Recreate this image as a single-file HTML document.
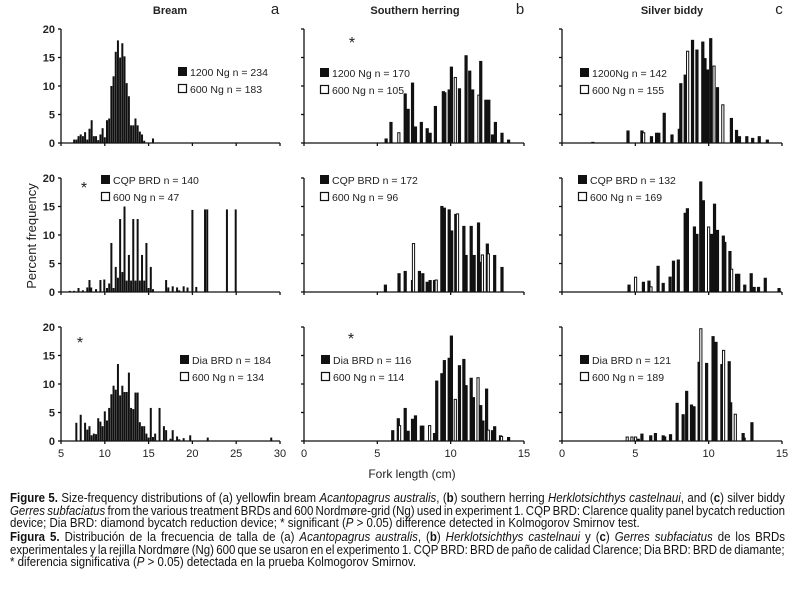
<!DOCTYPE html>
<html><head><meta charset="utf-8">
<style>
body{margin:0;background:#fff;width:799px;height:595px;overflow:hidden;position:relative;font-family:"Liberation Sans",sans-serif;}
svg{position:absolute;left:0;top:0}
.cap{position:absolute;left:10px;white-space:nowrap;font-family:"Liberation Sans Narrow","Liberation Sans",sans-serif;font-size:12.5px;transform-origin:0 0;color:#111}
</style></head><body>
<svg id="chart" width="799" height="490"></svg>
<div class="cap" data-j="1" style="top:491px"><b>Figure 5.</b> Size-frequency distributions of (a) yellowfin bream <i>Acantopagrus australis</i>, (<b>b</b>) southern herring <i>Herklotsichthys castelnaui</i>, and (<b>c</b>) silver biddy</div>
<div class="cap" data-j="1" style="top:504px"><i>Gerres subfaciatus</i> from the various treatment BRDs and 600 Nordmøre-grid (Ng) used in experiment 1. CQP BRD: Clarence quality panel bycatch reduction</div>
<div class="cap" style="top:516px">device; Dia BRD: diamond bycatch reduction device; * significant (<i>P</i> &gt; 0.05) difference detected in Kolmogorov Smirnov test.</div>
<div class="cap" data-j="1" style="top:530px"><b>Figura 5.</b> Distribución de la frecuencia de talla de (a) <i>Acantopagrus australis</i>, (<b>b</b>) <i>Herklotsichthys castelnaui</i> y (<b>c</b>) <i>Gerres subfaciatus</i> de los BRDs</div>
<div class="cap" data-j="1" style="top:543px">experimentales y la rejilla Nordmøre (Ng) 600 que se usaron en el experimento 1. CQP BRD: BRD de paño de calidad Clarence; Dia BRD: BRD de diamante;</div>
<div class="cap" style="top:555px">* diferencia significativa (<i>P</i> &gt; 0.05) detectada en la prueba Kolmogorov Smirnov.</div>
<script>
// ---- data (cm, percent, type f=filled o=open) ----
const a1x=[6.5,6.75,7,7.25,7.5,7.75,8,8.25,8.5,8.75,9,9.25,9.5,9.75,10,10.25,10.5,10.75,11,11.25,11.5,11.75,12,12.25,12.5,12.75,13,13.25,13.5,13.75,14,14.25,14.5,15.5];
const a1v=[0.6,0.6,1.2,1.5,1.2,1.9,0.6,2.5,4,1.2,1.2,0.5,1.5,2.6,1,4,4.3,10,11.7,16,18,15,17.5,15.2,10.5,8.2,3.1,3.1,4.3,3.1,2,1.5,0.4,0.8];
const a1t="ffffffffffffffffffffffffffffffffff";
const a2x=[6,6.5,7,7.5,8,8.25,8.5,9,9.5,10,10.25,10.5,10.75,11,11.25,11.5,11.75,12,12.25,12.5,12.75,13,13.25,13.5,13.75,14,14.25,14.5,14.75,15,15.25,15.5,17,17.25,17.75,18.25,18.5,19,19.5,20,20.5,21.5,21.75,24,25];
const a2v=[0.2,0.2,0.7,0.3,0.8,2.1,0.7,0.5,2.1,2.1,0.7,1.5,8.6,0.7,4.4,2.5,12.8,3.5,15,2,6.5,2,12.8,2,12.8,2,6.5,2,8.6,0.7,4.4,0.5,2.1,0.8,1,0.8,0.3,1,0.7,14.4,0.8,14.4,14.4,14.4,14.4];
const a2t="ffffffoffoffffffffffffffffffffffffffffofoooo".padEnd(45,"o");
const a3x=[6.75,7.25,7.75,8,8.25,8.5,8.75,9,9.25,9.5,9.75,10,10.25,10.5,10.75,11,11.25,11.5,11.75,12,12.25,12.5,12.75,13,13.25,13.5,13.75,14,14.25,14.5,14.75,15,15.25,15.5,15.75,16.25,16.75,17,17.5,17.75,18.25,18.5,19,19.75,21.75,29];
const a3v=[3.2,4.6,3.2,2,2.6,1,1.3,1.2,4,3.4,2.6,5.2,3.6,5.8,8.2,9.7,9,13.5,8,9.7,8.6,8.6,12,5.8,5.6,8.5,8.5,3.3,2.6,2.6,1.3,0.6,5.8,0.7,1.3,5.8,2.6,1.9,0.4,1.9,0.8,0.3,0.5,1,0.6,0.6];
const a3t="f".repeat(46);
const b1x=[5.6,5.93,6.5,6.9,7.1,7.4,7.6,8.0,8.4,8.6,8.96,9.5,9.6,9.9,10.05,10.35,10.6,11.05,11.3,11.5,11.96,12.05,12.4,12.6,12.85,13.05,13.5,13.95];
const b1v=[0.8,3.7,1.8,8.7,6,10.6,2.9,3.7,2.6,1.8,6.5,9.1,8.9,9.4,13.4,11.5,9.6,15.4,12.7,9.4,8.4,14.4,7.6,7.6,1.5,3.7,1.8,0.6];
const b1t="ffoffffffffffffoffffoffffffff".slice(0,28);
const b2x=[5.55,6.48,6.9,7.4,7.5,7.87,8.1,8.4,8.6,8.9,9.05,9.4,9.57,9.9,10.07,10.35,10.5,10.9,11.05,11.4,11.6,11.9,12.05,12.2,12.5,12.6,13.0,13.5];
const b2v=[1.3,3.3,3.7,2.1,8.5,3.7,3.3,1.8,2.1,2.1,2.1,15.1,14.8,14.5,10.8,13.7,13.7,11.6,6.5,11.6,6.5,12.2,5.3,6.5,8.5,6.7,6.5,4.4];
const b2t="ffffofffffofffffoffffffofoff".replace(/^(.{9})o/,"$1f");
const b3x=[6.05,6.43,6.55,6.9,7.1,7.4,7.6,8.0,8.1,8.6,8.9,9.05,9.4,9.57,9.9,10.05,10.35,10.6,10.9,11.05,11.4,11.55,11.9,12.05,12.2,12.45,12.6,12.85,13.0,13.4,13.5,13.95];
const b3v=[1.9,4.0,2.7,5.8,1.8,3.9,4.5,2.7,2.7,2.7,1.4,10.6,11.9,14.2,14.6,18.5,7.3,13.3,14.4,9.8,11.1,7.7,11.1,6.3,3.6,9.2,1.9,1.9,2.6,1.0,0.8,0.7];
const b3t="ffoffffffoffffffofffffofffofffoff".slice(0,32).split("");
const c1x=[2.1,4.5,5.45,5.6,6.1,6.45,6.6,6.97,7.5,8.0,8.1,8.4,8.6,8.9,9.2,9.6,9.75,9.93,10.14,10.4,10.6,11.0,11.55,11.9,12.1,12.6,13.0,13.45,14.0];
const c1v=[0.2,2.2,2.2,1.8,1.2,1.8,1.8,5.3,1.5,2.5,10.5,12,16.1,18.1,16.4,17.8,14.9,12.9,18.4,13.5,9.8,6.7,4.4,2.3,1.2,1.2,0.9,1.2,0.6];
const c1t="fffoffffffffoffffffofofffffff".slice(0,29);
const c2x=[4.57,5.05,5.55,5.93,6.1,6.55,6.9,7.37,7.6,7.93,8.4,8.55,9.03,9.2,9.46,9.64,10.03,10.2,10.4,10.6,11.0,11.1,11.45,11.6,11.9,12.05,12.46,12.9,13.1,13.4,13.86,14.8];
const c2v=[1.3,2.6,1.8,2.0,0.9,4.6,1.6,2.7,5.5,5.7,13.9,14.7,11.5,10.2,19.4,16.1,11.4,10.2,15.5,10.9,9.9,8.8,7.2,4.0,3.2,3.2,1.3,3.3,0.9,0.9,2.5,0.7];
const c2t="foffoffffffffffforfffffoffffffff".replace("r","f");
const c3x=[4.48,4.8,5.05,5.2,5.45,6.05,6.37,6.9,7.0,7.4,7.85,8.26,8.5,8.83,9.0,9.35,9.5,9.86,10.3,10.5,10.9,11.05,11.4,11.5,11.85,12.35,12.42,12.95];
const c3v=[0.7,0.7,0.7,0.4,1.3,1.0,1.4,1.0,0.8,1.2,6.7,4.7,8.8,6.4,6.1,13.9,19.7,13.7,18.4,17.4,13.5,15.9,14.0,6.8,4.7,1.4,0.6,3.3];
const c3t="ooofffffffffffffofffforfoffffo".replace("r","f").slice(0,28);
const legends=[["1200 Ng n = 234","600 Ng n = 183"],["CQP BRD n = 140","600 Ng n = 47"],["Dia BRD n = 184","600 Ng n = 134"],
["1200 Ng n = 170","600 Ng n = 105"],["CQP BRD n = 172","600 Ng n = 96"],["Dia BRD n = 116","600 Ng n = 114"],
["1200Ng n = 142","600 Ng n = 155"],["CQP BRD n = 132","600 Ng n = 169"],["Dia BRD n = 121","600 Ng n = 189"]];
const yTicks=[0,5,10,15,20];
const xTicksA=[5,10,15,20,25,30];
const xTicksBC=[0,5,10,15];

const NS="http://www.w3.org/2000/svg";
const svg=document.getElementById("chart");
function mk(tag,attrs,parent){const e=document.createElementNS(NS,tag);for(const k in attrs)e.setAttribute(k,attrs[k]);(parent||svg).appendChild(e);return e;}
const cols=[{x0:61,x1:280,d0:5,d1:30,bw:2},{x0:304,x1:524,d0:0,d1:15,bw:3.2},{x0:562,x1:782,d0:0,d1:15,bw:3.2}];
const rowsY=[143,292,441];
const H=114;
function xs(c,v){const C=cols[c];return C.x0+(v-C.d0)/(C.d1-C.d0)*(C.x1-C.x0);}
function ys(r,v){return rowsY[r]-v/20*H;}
const panels=[[a1x,a1v,a1t],[a2x,a2v,a2t],[a3x,a3v,a3t],[b1x,b1v,b1t],[b2x,b2v,b2t],[b3x,b3v,b3t],[c1x,c1v,c1t],[c2x,c2v,c2t],[c3x,c3v,c3t]];
const legPos=[[178,67],[101,175],[180,355],[320,68],[320,175],[321,355],[580,68],[578,175],[580,355]];
const stars=[null,[84,193],[80,348],[352,48],null,[351,344],null,null,null];
for(let c=0;c<3;c++)for(let r=0;r<3;r++){
  const p=c*3+r;const g=mk("g",{});
  
  
  const [X,V,T]=panels[p];const bw=cols[c].bw;
  for(let i=0;i<X.length;i++){
    const t=(T[i]||"f");const x=xs(c,X[i]);const y=ys(r,V[i]);
    const b=mk("rect",{x:(x-bw/2).toFixed(2),y:y.toFixed(2),width:(t=="o"?bw-1:bw),height:(rowsY[r]-y).toFixed(2),fill:t=="o"?"#fff":"#111",stroke:"#111","stroke-width":t=="o"?1:0},g);
    
    
  }
  const ax=mk("path",{d:`M${cols[c].x0},${ys(r,20)}V${rowsY[r]}H${cols[c].x1}`,stroke:"#111","stroke-width":1.3,fill:"none"},g);
  
  
  yTicks.forEach(t=>{mk("line",{x1:cols[c].x0-3,x2:cols[c].x0,y1:ys(r,t),y2:ys(r,t),stroke:"#111","stroke-width":1.3},g);
    if(c==0){const tx=mk("text",{x:55,y:ys(r,t)+4,"text-anchor":"end","font-size":11,"font-weight":"bold",fill:"#222"},g);tx.textContent=t;
      
      }});
  (c==0?xTicksA:xTicksBC).forEach(t=>{mk("line",{x1:xs(c,t),x2:xs(c,t),y1:rowsY[r],y2:rowsY[r]+3,stroke:"#111","stroke-width":1.3},g);
    if(r==2){const tx=mk("text",{x:xs(c,t),y:rowsY[r]+16,"text-anchor":"middle","font-size":11,fill:"#222"},g);tx.textContent=t;
      
      }});
  const [lx,ly]=legPos[p];
  mk("rect",{x:lx,y:ly,width:9,height:9,fill:"#111"},g);
  mk("rect",{x:lx+0.5,y:ly+17.5,width:8,height:8,fill:"#fff",stroke:"#111","stroke-width":1.2},g);
  const l1=mk("text",{x:lx+12,y:ly+9,"font-size":10.5,fill:"#222"},g);l1.textContent=legends[p][0];
  
  
  const l2=mk("text",{x:lx+12,y:ly+26,"font-size":10.5,fill:"#222"},g);l2.textContent=legends[p][1];
  
  
  if(stars[p]){const s=mk("text",{x:stars[p][0],y:stars[p][1],"font-size":16,"text-anchor":"middle",fill:"#222"},g);s.textContent="*";
    
    }
}
const titles=[["Bream",170,14],["a",275,14],["Southern herring",415,14],["b",520,14],["Silver biddy",672,14],["c",779,14]];
titles.forEach(([t,x,y])=>{const e=mk("text",{x:x,y:y,"text-anchor":"middle","font-size":t.length==1?15:11,"font-weight":t.length==1?"normal":"bold",fill:"#222"});e.textContent=t;
  
  });
const xl=mk("text",{x:412,y:478,"text-anchor":"middle","font-size":12,fill:"#222"});xl.textContent="Fork length (cm)";


const yl=mk("text",{x:0,y:0,transform:"translate(36,236) rotate(-90)","text-anchor":"middle","font-size":13,fill:"#222"});yl.textContent="Percent frequency";


// caption fitting: common horizontal scale from line 3 (ends ~x=640), justify full lines via word spacing
const caps=[...document.querySelectorAll(".cap")];
const ref=caps[2];const s=Math.min(1,630/ref.scrollWidth);
caps.forEach(d=>{
  if(d.dataset.j){const w=d.scrollWidth;const n=(d.textContent.match(/ /g)||[]).length;
    const extra=(775/s-w)/n; d.style.wordSpacing=extra+"px";
    const w2=d.scrollWidth; d.style.transform=`scaleX(${775/w2})`;}
  else d.style.transform=`scaleX(${s})`;
});
</script>
</body></html>
